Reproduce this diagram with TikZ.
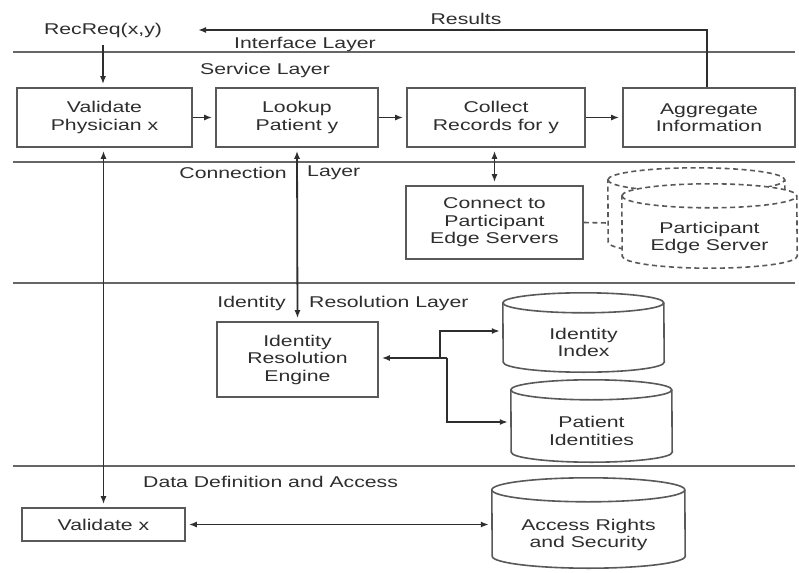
\documentclass[tikz,border=0pt]{standalone}
\usepackage{fontspec}
\setmainfont{Liberation Sans}[FakeStretch=1.36]
\usetikzlibrary{arrows.meta,calc,backgrounds}

% outline of a vertical database cylinder around a named body node
% #1 extra draw options, #2 node name, #3 x radius, #4 y radius
\newcommand\dbcylinder[4][]{%
  \path[fill=white,draw=black!65,line width=1.6pt,#1]
    ([yshift=#4]#2.north west) arc[start angle=180,end angle=0,x radius=#3,y radius=#4]
    -- ([yshift=#4]#2.south east) arc[start angle=0,end angle=-180,x radius=#3,y radius=#4]
    -- cycle;
  \draw[black!65,line width=1.6pt,#1]
    ([yshift=#4]#2.north west) arc[start angle=180,end angle=360,x radius=#3,y radius=#4];
}

\begin{document}
\begin{tikzpicture}[x=1pt,y=-1pt,
  txt/.style={font=\fontsize{15.6}{17.5}\selectfont, text=black!82},
  box/.style={txt, draw=black!65, line width=1.6pt, inner sep=0pt, align=center, fill=white},
  dbbody/.style={txt, inner sep=0pt, align=center},
  lbl/.style={txt, inner sep=0pt},
  arr/.style={-{Latex[length=8pt,width=6pt]}, line width=1.8pt, draw=black!82, shorten >=3pt},
  darr/.style={{Latex[length=8pt,width=6pt]}-{Latex[length=8pt,width=6pt]}, line width=1.8pt, draw=black!82, shorten >=3pt, shorten <=3pt},
  layerline/.style={draw=black!60, line width=1.3pt},
  dashline/.style={dash pattern=on 5pt off 3.5pt}]

\useasboundingbox (0,0) rectangle (799,572);

% layer separators
\coordinate (l1a) at (13,52);  \coordinate (l1b) at (795,52);
\coordinate (l2a) at (13,162); \coordinate (l2b) at (795,162);
\coordinate (l3a) at (13,283); \coordinate (l3b) at (795,283);
\coordinate (l4a) at (13,466); \coordinate (l4b) at (795,466);
\draw[layerline] (l1a) -- (l1b);
\draw[layerline] (l2a) -- (l2b);
\draw[layerline] (l3a) -- (l3b);
\draw[layerline] (l4a) -- (l4b);

% layer labels and texts
\node[lbl] (rr) at (103,30) {RecReq(x,y)};
\node[lbl] (res) at (466,19) {Results};
\node[lbl] (ifl) at (305,44) {Interface Layer};
\node[lbl] (svl) at (265,70) {Service Layer};
\node[lbl, anchor=east] (cnl1) at (287,173) {Connection};
\node[lbl, anchor=west] (cnl2) at (307,173) {Layer};
\node[lbl, anchor=east] (irl1) at (286,303) {Identity};
\node[lbl, anchor=west] (irl2) at (309,303) {Resolution Layer};
\node[lbl, anchor=west] (dda) at (143,482) {Data Definition and Access};

% service layer
\node[box, minimum width=175pt, minimum height=59pt] (vp) at (104.5,117.5) {Validate\\Physician x};
\node[box, minimum width=162pt, minimum height=59pt] (lp) at (297,117.5) {Lookup\\Patient y};
\node[box, minimum width=178pt, minimum height=59pt] (cr) at (496,117.5) {Collect\\Records for y};
\node[box, minimum width=172pt, minimum height=59pt] (ai) at (709,117.5) {Aggregate\\Information};

% connection layer
\node[box, minimum width=177pt, minimum height=73pt] (cp) at (494.5,222.5) {Connect to\\Participant\\Edge Servers};
\node[dbbody, minimum width=177pt, minimum height=62pt] (pesb) at (696.5,223) {};
\node[dbbody, minimum width=175pt, minimum height=60pt] (pes) at (709.5,238) {Participant\\Edge Server};

% identity resolution layer
\node[box, minimum width=161pt, minimum height=75pt] (ire) at (297.5,359.5) {Identity\\Resolution\\Engine};
\node[dbbody, minimum width=161pt, minimum height=59pt] (ii) at (583.5,342.5) {Identity\\Index};
\node[dbbody, minimum width=161pt, minimum height=62pt] (pi) at (591.5,431) {Patient\\Identities};

% data definition and access
\node[box, minimum width=163pt, minimum height=33pt] (vx) at (103.5,524.5) {Validate x};
\node[dbbody, minimum width=193pt, minimum height=66pt] (ar) at (588.5,535) {Access Rights\\and Security};

\begin{scope}[on background layer]
  \dbcylinder[dashline]{pesb}{88.5pt}{12pt}
  \dbcylinder[dashline]{pes}{87.5pt}{12pt}
  \dbcylinder{ii}{80.5pt}{10pt}
  \dbcylinder{pi}{80.5pt}{10pt}
  \dbcylinder{ar}{96.5pt}{12pt}
\end{scope}

% connectors
\coordinate (resend) at (198,30);
\draw[arr] ([yshift=-8pt]rr.south) -- (rr.south |- vp.north);
\draw[arr, shorten >=0pt] ([xshift=-2pt]ai.north) |- (resend);
\draw[arr] (vp.east) -- (lp.west);
\draw[arr] (lp.east) -- (cr.west);
\draw[arr] (cr.east) -- (ai.west);
\draw[darr] (vx.north) -- (vx.north |- vp.south);
\draw[darr] (ire.north) -- (lp.south);
\draw[darr] (cp.north) -- (cp.north |- cr.south);
\draw[dashline, draw=black!65, line width=1.6pt] (cp.east) -- (pesb.west);

\coordinate (ja) at (440,358);
\coordinate (jb) at (447,358);
\draw[arr] (jb) -- (ire.east |- jb);
\draw[arr] (ja) |- ([yshift=11.5pt]ii.west);
\draw[arr] (jb) |- ([yshift=9pt]pi.west);
\draw[darr] (vx.east) -- (vx.east -| ar.west);
\end{tikzpicture}
\end{document}
